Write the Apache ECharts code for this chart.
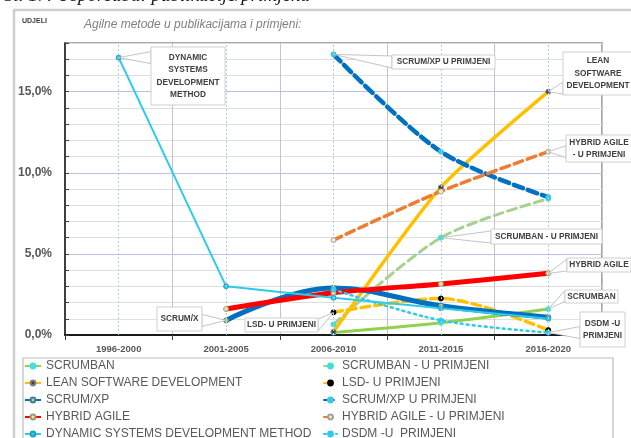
<!DOCTYPE html>
<html>
<head>
<meta charset="utf-8">
<script src="https://cdn.jsdelivr.net/npm/echarts@6/dist/echarts.min.js"></script>
<style>
  html, body { margin: 0; padding: 0; background: #ffffff; }
  #chart { width: 631px; height: 438px; }
</style>
</head>
<body>
<div id="chart"></div>
<script>
// Periods on the x axis
const categories = ['1996-2000', '2001-2005', '2006-2010', '2011-2015', '2016-2020'];

// Shares (%) per method: in publications and in practice ("u primjeni")
const scrumban          = [null, null, 0.15, 0.75, 1.6];
const scrumbanPrimjena  = [null, null, 0.65, 6.0, 8.4];
const lean              = [null, null, 0.2, 9.1, 15.0];
const lsdPrimjena       = [null, null, 1.4, 2.25, 0.3];
const scrumXp           = [null, 0.9, 2.9, 1.8, 1.1];
const scrumXpPrimjena   = [null, null, 17.3, 11.3, 8.5];
const hybridAgile       = [null, 1.6, 2.6, 3.15, 3.8];
const hybridPrimjena    = [null, null, 5.85, 8.85, 11.3];
const dsdm              = [17.1, 3.0, 2.3, 1.65, 1.0];
const dsdmPrimjena      = [null, null, 2.8, 0.9, 0.15];

// Series names (legend order: row by row)
const seriesNames = [
  'SCRUMBAN', 'SCRUMBAN - U PRIMJENI',
  'LEAN SOFTWARE DEVELOPMENT', 'LSD- U PRIMJENI',
  'SCRUM/XP', 'SCRUM/XP U PRIMJENI',
  'HYBRID AGILE', 'HYBRID AGILE - U PRIMJENI',
  'DYNAMIC SYSTEMS DEVELOPMENT METHOD', 'DSDM -U  PRIMJENI'
];
const seriesValues = [
  scrumban, scrumbanPrimjena, lean, lsdPrimjena, scrumXp,
  scrumXpPrimjena, hybridAgile, hybridPrimjena, dsdm, dsdmPrimjena
];

// Y axis tick labels (every 5 %)
const yTickLabels = { 0: '0,0%', 5: '5,0%', 10: '10,0%', 15: '15,0%' };

// Line and marker styling per series
const styles = [
  { color: '#92d050', width: 3,   dash: 'solid',  marker: '#3fe0e0', border: '#3fe0e0', smooth: 0.3 },
  { color: '#a9d18e', width: 3,   dash: [9, 5],   marker: '#3fe0d6', border: '#3fe0d6', smooth: 0.3 },
  { color: '#ffc000', width: 3.5, dash: 'solid',  marker: '#404040', border: '#808080', smooth: 0.2 },
  { color: '#ffc000', width: 3.5, dash: [9, 5],   marker: '#000000', border: '#000000', smooth: 0.3 },
  { color: '#0070c0', width: 5,   dash: 'solid',  marker: '#c9c98a', border: '#3f7f8f', smooth: 0.4 },
  { color: '#0070c0', width: 4.5, dash: [10, 5],  marker: '#3cc4e6', border: '#3cc4e6', smooth: 0.3 },
  { color: '#ff0000', width: 5,   dash: 'solid',  marker: '#f3e39a', border: '#9a9a7a', smooth: 0.3 },
  { color: '#ed7d31', width: 3.5, dash: [9, 5],   marker: '#fbeec2', border: '#a0a0a0', smooth: 0.3 },
  { color: '#2ccbe8', width: 2,   dash: 'solid',  marker: '#2ccbe8', border: '#2c9fb8', smooth: false },
  { color: '#2ccbe8', width: 2.5, dash: [2, 4],   marker: '#2ccbe8', border: '#2ccbe8', smooth: 0.3 }
];

// Callout boxes: [series, category index, text, left, top, width, height]
const callouts = [
  [8, 0, 'DYNAMIC\nSYSTEMS\nDEVELOPMENT\nMETHOD', 151, 47, 74, 58],
  [5, 2, 'SCRUM/XP U PRIMJENI', 392, 55, 103, 14],
  [2, 4, 'LEAN\nSOFTWARE\nDEVELOPMENT', 563, 52, 70, 43],
  [7, 4, 'HYBRID AGILE\n- U PRIMJENI', 566, 135, 66, 27],
  [1, 3, 'SCRUMBAN - U PRIMJENI', 491, 229, 111, 15],
  [6, 4, 'HYBRID AGILE', 567, 258, 64, 14],
  [0, 4, 'SCRUMBAN', 565, 290, 53, 13],
  [9, 4, 'DSDM -U\nPRIMJENI', 580, 312, 45, 35],
  [4, 1, 'SCRUM/X', 157, 307, 45, 24],
  [3, 2, 'LSD- U PRIMJENI', 245, 318, 73, 14]
];

const chart = echarts.init(document.getElementById('chart'), null, { renderer: 'canvas' });

const series = seriesNames.map((name, i) => {
  const st = styles[i];
  const s = {
    name: name,
    type: 'line',
    data: seriesValues[i],
    smooth: st.smooth,
    connectNulls: false,
    symbol: 'circle',
    symbolSize: 5,
    showSymbol: true,
    lineStyle: { color: st.color, width: st.width, type: st.dash, cap: st.dash === 'solid' ? 'butt' : 'round' },
    itemStyle: { color: st.marker, borderColor: st.border, borderWidth: 1 },
    emphasis: { disabled: true },
    animation: false
  };
  if (i === 0) {
    // dotted vertical guides at the category centres
    s.markLine = {
      silent: true,
      symbol: ['none', 'none'],
      label: { show: false },
      lineStyle: { type: [2, 2], color: '#b8c8e4', width: 1 },
      data: categories.map(c => ({ xAxis: c })),
      animation: false
    };
  }
  return s;
});

const legendText = { color: '#595959', fontSize: 12, fontFamily: 'Liberation Sans, Arial, sans-serif', lineHeight: 14 };

const option = {
  backgroundColor: '#ffffff',
  animation: false,
  grid: {
    left: 65, right: 29, top: 43, bottom: 103,
    show: true, borderColor: '#a6a6a6', borderWidth: 2, backgroundColor: 'transparent'
  },
  xAxis: {
    type: 'category',
    data: categories,
    boundaryGap: true,
    axisLine: { lineStyle: { color: '#1a1a1a', width: 2 } },
    axisTick: { show: true, length: 5, interval: 0, lineStyle: { color: '#404040' } },
    axisLabel: {
      color: '#595959', fontWeight: 'bold', fontSize: 9.5, margin: 9,
      fontFamily: 'Liberation Sans, Arial, sans-serif'
    },
    splitLine: { show: true, interval: 0, lineStyle: { color: '#c4c4c4', width: 1 } }
  },
  yAxis: {
    type: 'value',
    min: 0, max: 18, interval: 1,
    axisLine: { show: true, lineStyle: { color: '#1a1a1a', width: 1.5 } },
    axisTick: { show: true, inside: true, length: 4, lineStyle: { color: '#404040' } },
    axisLabel: {
      color: '#595959', fontWeight: 'bold', fontSize: 12, margin: 13,
      fontFamily: 'Liberation Sans, Arial, sans-serif',
      formatter: v => (yTickLabels[v] !== undefined ? yTickLabels[v] : '')
    },
    splitLine: {
      show: true,
      lineStyle: { color: ['#b4c6e4', '#dedede', '#dedede', '#dedede', '#dedede'], width: 1 }
    }
  },
  legend: [
    {
      orient: 'vertical', left: 24, top: 359, height: 120, padding: 0,
      itemGap: 3, itemWidth: 16, itemHeight: 6,
      data: seriesNames.filter((n, i) => i % 2 === 0),
      textStyle: legendText, selectedMode: false
    },
    {
      orient: 'vertical', left: 323, top: 359, height: 120, padding: 0,
      itemGap: 3, itemWidth: 13, itemHeight: 6,
      data: seriesNames.filter((n, i) => i % 2 === 1),
      textStyle: legendText, selectedMode: false
    }
  ],
  series: series
};

chart.setOption(option);

// Static decorations: frame, headings, legend border
const graphics = [
  {
    type: 'text', z: 10,
    style: {
      text: 'Sl. 17. Usporedba: publikacije/primjena', x: 4, y: -4,
      font: 'italic 19px "Liberation Serif", "Times New Roman", serif',
      fill: '#1a1a1a', verticalAlign: 'middle'
    }
  },
  {
    type: 'rect', z: 1, silent: true,
    shape: { x: 14, y: 10, width: 640, height: 440 },
    style: { fill: null, stroke: '#cfcfcf', lineWidth: 2.5 }
  },
  {
    type: 'text', z: 10,
    style: {
      text: 'UDJELI', x: 22, y: 21, verticalAlign: 'middle',
      font: 'bold 7px "Liberation Sans", Arial, sans-serif', fill: '#404040'
    }
  },
  {
    type: 'text', z: 10,
    style: {
      text: 'Agilne metode u publikacijama i primjeni:', x: 84, y: 25, verticalAlign: 'middle',
      font: 'italic 12px "Liberation Sans", Arial, sans-serif', fill: '#808080'
    }
  },
  {
    type: 'rect', z: 1, silent: true,
    shape: { x: 23, y: 358, width: 590, height: 100 },
    style: { fill: null, stroke: '#bdbdbd', lineWidth: 1.2 }
  }
];

// Callouts: box plus a wedge pointing at the data point
callouts.forEach(([si, ci, text, bx, by, bw, bh]) => {
  const p = chart.convertToPixel({ seriesIndex: si }, [ci, seriesValues[si][ci]]);
  const px = p[0], py = p[1];
  const right = bx + bw, bottom = by + bh;
  const dxOut = px < bx ? bx - px : (px > right ? px - right : 0);
  const dyOut = py < by ? by - py : (py > bottom ? py - bottom : 0);
  let a, b;
  const hw = 6;
  if (dxOut >= dyOut) {
    const ex = px < bx ? bx : right;
    const cy = Math.min(Math.max(py, by + hw + 1), bottom - hw - 1);
    const h = Math.min(hw, bh / 2 - 1);
    a = [ex, cy - h]; b = [ex, cy + h];
  } else {
    const ey = py < by ? by : bottom;
    const cx = Math.min(Math.max(px, bx + hw + 1), right - hw - 1);
    a = [cx - hw, ey]; b = [cx + hw, ey];
  }
  graphics.push({
    type: 'polygon', z: 20, silent: true,
    shape: { points: [[px, py], a, b] },
    style: { fill: '#ffffff', stroke: '#b5b5b5', lineWidth: 0.8 }
  });
  graphics.push({
    type: 'rect', z: 21, silent: true,
    shape: { x: bx, y: by, width: bw, height: bh },
    style: { fill: '#ffffff', stroke: '#cfcfcf', lineWidth: 1 }
  });
  graphics.push({
    type: 'text', z: 22, silent: true,
    x: bx + bw / 2, y: by + bh / 2, scaleX: 0.92,
    style: {
      text: text, x: 0, y: 0, align: 'center', verticalAlign: 'middle',
      font: 'bold 9px "Liberation Sans", Arial, sans-serif',
      lineHeight: 12.5, fill: '#404040'
    }
  });
});

chart.setOption({ graphic: graphics });
</script>
</body>
</html>
